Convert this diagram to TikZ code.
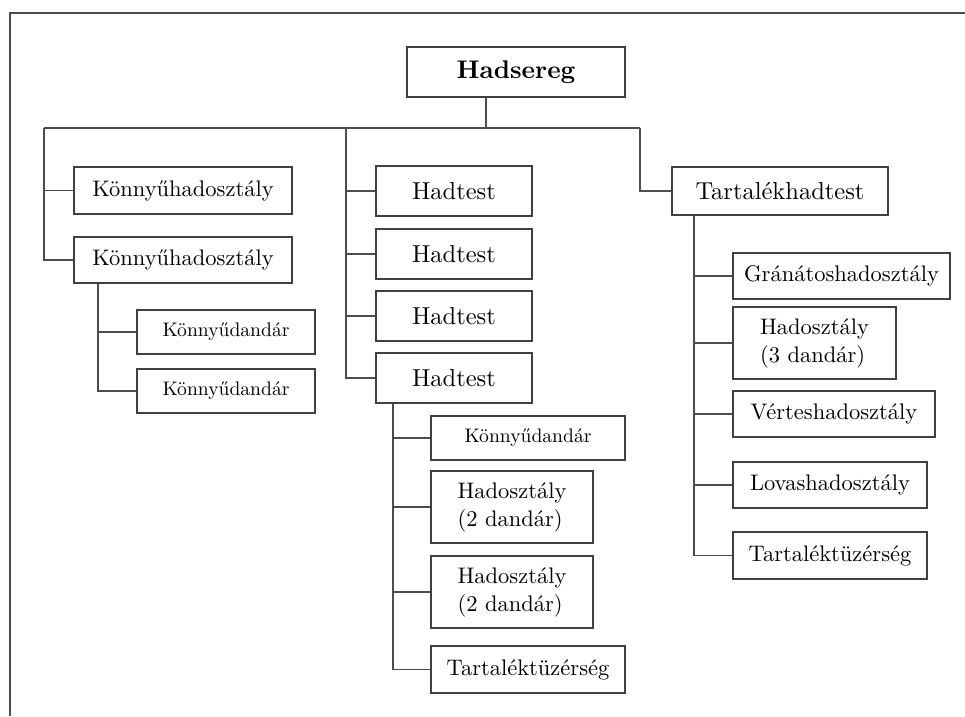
\documentclass[tikz,border=0pt]{standalone}
\usepackage{fontspec}
\setmainfont{lmroman10-regular.otf}[BoldFont=lmroman10-bold.otf]
\usepackage{amsmath, tikz}
\usetikzlibrary{positioning}

\tikzset{
    unit/.style={draw=black!75, line width=1.2pt, inner sep=0pt, align=left,
        minimum height=46pt, font=\fontsize{22.5}{28}\selectfont},
    small/.style={font=\fontsize{19.6}{24}\selectfont},
    large/.style={font=\fontsize{24.5}{30}\selectfont},
    link/.style={draw=black!70, line width=1.2pt},
}

\begin{document}
\begin{tikzpicture}[x=1pt, y=-1pt]
    \useasboundingbox (0,0) rectangle (965,716);

    % Frame
    \draw[link] (10,716) -- (10,13) -- (965,13);

    % Top
    \node[unit, minimum width=218pt, minimum height=50pt,
          font=\bfseries\fontsize{25.5}{30}\selectfont] (army) at (516,72) {Hadsereg};

    % Left branch
    \node[unit, minimum width=218pt, minimum height=47pt] (lh1) at (183,190.5) {Könnyűhadosztály};
    \node[unit, minimum width=218pt] (lh2) at (183,260) {Könnyűhadosztály};
    \node[unit, small, minimum width=178pt, minimum height=44pt] (lb1) at (226,332) {Könnyűdandár};
    \node[unit, small, minimum width=178pt, minimum height=44pt] (lb2) at (226,391) {Könnyűdandár};

    % Middle branch
    \node[unit, large, minimum width=156pt, minimum height=50pt] (c1) at (454,191) {Hadtest};
    \node[unit, large, minimum width=156pt, minimum height=50pt] (c2) at (454,254) {Hadtest};
    \node[unit, large, minimum width=156pt, minimum height=50pt] (c3) at (454,316) {Hadtest};
    \node[unit, large, minimum width=156pt, minimum height=50pt] (c4) at (454,378) {Hadtest};
    \node[unit, small, minimum width=194pt, minimum height=44pt] (cb) at (528,438) {Könnyűdandár};
    \node[unit, minimum width=162pt, minimum height=72pt] (cd1) at (512,507) {Hadosztály\\(2 dandár)};
    \node[unit, minimum width=162pt, minimum height=72pt] (cd2) at (512,592) {Hadosztály\\(2 dandár)};
    \node[unit, minimum width=194pt, minimum height=47pt] (ca) at (528,669.5) {Tartaléktüzérség};

    % Right branch
    \node[unit, large, minimum width=216pt, minimum height=48pt] (res) at (780,191) {Tartalékhadtest};
    \node[unit, minimum width=217pt] (r1) at (841.5,276) {Gránátoshadosztály};
    \node[unit, minimum width=163pt, minimum height=72pt] (r2) at (814.5,343) {Hadosztály\\(3 dandár)};
    \node[unit, minimum width=202pt] (r3) at (834,414) {Vérteshadosztály};
    \node[unit, minimum width=194pt] (r4) at (830,485) {Lovashadosztály};
    \node[unit, minimum width=194pt, minimum height=47pt] (r5) at (830,555.5) {Tartaléktüzérség};

    % Junctions
    \coordinate (bar) at (486,128);
    \coordinate (left) at (44,128);
    \coordinate (mid) at (346,128);
    \coordinate (right) at (640,128);
    \coordinate (lt) at (98,0);
    \coordinate (ct) at (393,0);
    \coordinate (rt) at (694,0);

    % Connectors
    \draw[link] (army.south -| bar) -- (bar);
    \draw[link] (left) -- (right);
    \draw[link] (left) |- (lh1.west);
    \draw[link] (left) |- (lh2.west);
    \draw[link] (lh2.south -| lt) |- (lb1.west);
    \draw[link] (lh2.south -| lt) |- (lb2.west);
    \foreach \n in {c1,c2,c3,c4}
        \draw[link] (mid) |- (\n.west);
    \foreach \n in {cb,cd1,cd2,ca}
        \draw[link] (c4.south -| ct) |- (\n.west);
    \draw[link] (right) |- (res.west);
    \foreach \n in {r1,r2,r3,r4,r5}
        \draw[link] (res.south -| rt) |- (\n.west);
\end{tikzpicture}
\end{document}
